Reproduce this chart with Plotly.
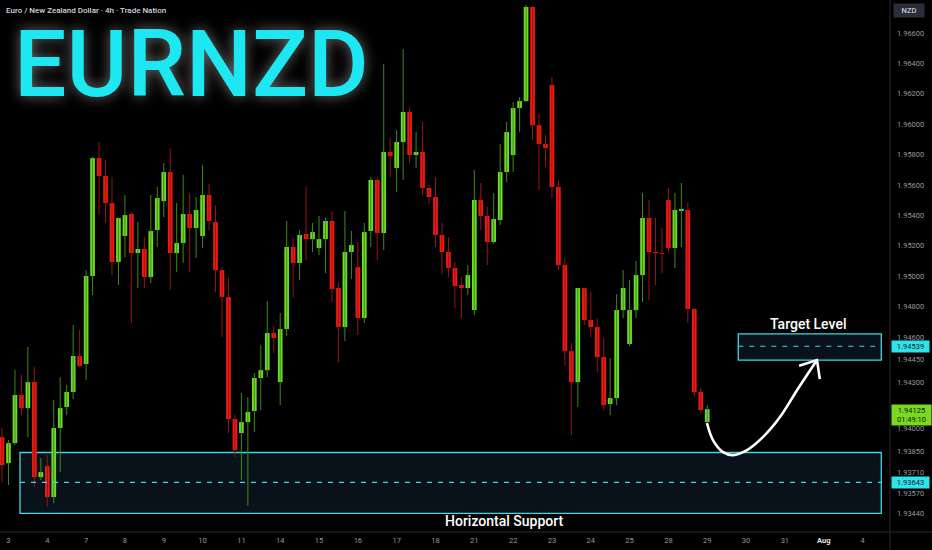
import plotly.graph_objects as go

# ---------------- data (EUR/NZD, 4h candles) ----------------
OPEN = [1.93941, 1.93770, 1.93902, 1.94218, 1.94132, 1.94303, 1.93678, 1.93751, 1.93547, 1.94001,
        1.94139, 1.94238, 1.94475, 1.94422, 1.95001, 1.95777, 1.95659, 1.95481, 1.95093, 1.95264,
        1.95409, 1.95152, 1.95179, 1.94994, 1.95304, 1.95494, 1.95685, 1.95152, 1.95218, 1.95409,
        1.95317, 1.95264, 1.95534, 1.95356, 1.95040, 1.94863, 1.94060, 1.93968, 1.94040, 1.94113,
        1.94330, 1.94382, 1.94626, 1.94303, 1.94652, 1.95192, 1.95087, 1.95277, 1.95244, 1.95185,
        1.95244, 1.95363, 1.94922, 1.94665, 1.95159, 1.95060, 1.94725, 1.95297, 1.95633, 1.95284,
        1.95817, 1.95712, 1.95883, 1.96080, 1.95797, 1.95817, 1.95580, 1.95521, 1.95271, 1.95159,
        1.95054, 1.94942, 1.94922, 1.94777, 1.95501, 1.95396, 1.95225, 1.95369, 1.95685, 1.95797,
        1.96106, 1.96152, 1.96771, 1.95994, 1.95869, 1.96258, 1.95587, 1.95073, 1.94507, 1.94303,
        1.94922, 1.94711, 1.94665, 1.94468, 1.94159, 1.94198, 1.94777, 1.94554, 1.94777, 1.95007,
        1.95383, 1.95159, 1.95152, 1.95501, 1.95185, 1.95429, 1.95435, 1.94784, 1.94238, 1.94040]
HIGH = [1.94001, 1.93922, 1.94382, 1.94350, 1.94534, 1.94402, 1.93803, 1.93823, 1.94185, 1.94336,
        1.94284, 1.94679, 1.94646, 1.95040, 1.95785, 1.95883, 1.95764, 1.95652, 1.95383, 1.95534,
        1.95422, 1.95356, 1.95258, 1.95534, 1.95587, 1.95744, 1.95843, 1.95481, 1.95666, 1.95547,
        1.95521, 1.95731, 1.95606, 1.95468, 1.95060, 1.94988, 1.94086, 1.94231, 1.94205, 1.94363,
        1.94547, 1.94836, 1.94672, 1.94758, 1.95363, 1.95251, 1.95304, 1.95587, 1.95350, 1.95396,
        1.95383, 1.95422, 1.94961, 1.95429, 1.95297, 1.95225, 1.95350, 1.95652, 1.95652, 1.96396,
        1.95909, 1.95962, 1.96495, 1.96113, 1.95948, 1.96014, 1.95600, 1.95652, 1.95350, 1.95258,
        1.95093, 1.94994, 1.95073, 1.95698, 1.95613, 1.95455, 1.95547, 1.95869, 1.96014, 1.96146,
        1.96179, 1.96784, 1.96778, 1.96073, 1.95929, 1.96310, 1.95633, 1.95119, 1.94560, 1.94922,
        1.94925, 1.94896, 1.94725, 1.94593, 1.94461, 1.94882, 1.95040, 1.94975, 1.95100, 1.95547,
        1.95501, 1.95383, 1.95317, 1.95580, 1.95547, 1.95613, 1.95488, 1.94790, 1.94264, 1.94152]
LOW = [1.93645, 1.93626, 1.93889, 1.94086, 1.93941, 1.93613, 1.93659, 1.93481, 1.93507, 1.93711,
       1.94086, 1.94192, 1.94402, 1.94317, 1.94876, 1.95402, 1.95350, 1.95007, 1.94942, 1.95126,
       1.94692, 1.94922, 1.94922, 1.94955, 1.95192, 1.95389, 1.94909, 1.95027, 1.95087, 1.95027,
       1.95119, 1.95185, 1.95304, 1.94896, 1.94600, 1.93968, 1.93810, 1.93659, 1.93488, 1.93974,
       1.94119, 1.94336, 1.94494, 1.94152, 1.94606, 1.94863, 1.94975, 1.95106, 1.95159, 1.95139,
       1.95021, 1.94830, 1.94435, 1.94573, 1.94981, 1.94613, 1.94692, 1.95192, 1.95106, 1.95172,
       1.95652, 1.95554, 1.95633, 1.95744, 1.95712, 1.95534, 1.95475, 1.95192, 1.95014, 1.94994,
       1.94790, 1.94725, 1.94876, 1.94744, 1.95304, 1.95073, 1.95211, 1.95337, 1.95619, 1.95685,
       1.95948, 1.96146, 1.95896, 1.95567, 1.95718, 1.95514, 1.95040, 1.94415, 1.93955, 1.94139,
       1.94679, 1.94600, 1.94369, 1.94119, 1.94086, 1.94152, 1.94725, 1.94540, 1.94725, 1.94830,
       1.94843, 1.94942, 1.95021, 1.95159, 1.95054, 1.95192, 1.94692, 1.94205, 1.94099, 1.94034]
CLOSE = [1.93757, 1.93902, 1.94218, 1.94132, 1.94303, 1.93678, 1.93711, 1.93547, 1.94001, 1.94132,
         1.94238, 1.94475, 1.94409, 1.95001, 1.95777, 1.95659, 1.95481, 1.95093, 1.95383, 1.95402,
         1.95152, 1.95179, 1.94994, 1.95297, 1.95514, 1.95685, 1.95152, 1.95218, 1.95409, 1.95317,
         1.95435, 1.95534, 1.95363, 1.95040, 1.94863, 1.94060, 1.93856, 1.94040, 1.94106, 1.94330,
         1.94382, 1.94626, 1.94593, 1.94652, 1.95192, 1.95087, 1.95271, 1.95244, 1.95290, 1.95244,
         1.95363, 1.94915, 1.94665, 1.95159, 1.95205, 1.94725, 1.95290, 1.95633, 1.95284, 1.95817,
         1.95791, 1.95883, 1.96080, 1.95797, 1.95817, 1.95580, 1.95521, 1.95271, 1.95159, 1.95054,
         1.94935, 1.94922, 1.95007, 1.95501, 1.95396, 1.95225, 1.95376, 1.95685, 1.95948, 1.96106,
         1.96152, 1.96771, 1.95994, 1.95869, 1.95843, 1.95587, 1.95073, 1.94507, 1.94303, 1.94922,
         1.94711, 1.94665, 1.94468, 1.94152, 1.94198, 1.94777, 1.94922, 1.94777, 1.95007, 1.95383,
         1.95159, 1.95152, 1.95146, 1.95185, 1.95435, 1.95442, 1.94784, 1.94238, 1.94119, 1.94125]

DAY_LABELS = ["3", "4", "7", "8", "9", "10", "11", "14", "15", "16", "17", "18",
              "21", "22", "23", "24", "25", "28", "29", "30", "31", "Aug", "4"]
CANDLES_PER_DAY = 6
Y_TICKS = [1.966, 1.964, 1.962, 1.960, 1.958, 1.956, 1.954, 1.952, 1.950, 1.948,
           1.946, 1.9445, 1.943, 1.940, 1.9385, 1.9371, 1.9357, 1.9344]

SUPPORT_ZONE = (1.9344, 1.9384)
SUPPORT_LEVEL = 1.93643
TARGET_ZONE = (1.94448, 1.94620)
TARGET_LEVEL = 1.94539
LAST_PRICE = 1.94125
COUNTDOWN = "01:49:10"

# projected path (candle index, price)
PATH_X = [108.96, 109.89, 111.44, 112.98, 115.15, 117.6, 120.25, 122.9, 125.97]
PATH_Y = [1.94034, 1.93922, 1.93843, 1.93823, 1.93856, 1.93941, 1.94073, 1.94251, 1.94448]
HEAD_X = [123.2, 125.97, 126.4]
HEAD_Y = [1.94411, 1.94448, 1.94323]

GREEN = "#6cdc26"
RED = "#f01a12"
GREEN_WICK = "#3f8a1c"
RED_WICK = "#9a1510"
CYAN = "#3dd9e0"
GRAY = "#9598a1"

n = len(OPEN)
idx = list(range(n))
up = [CLOSE[i] >= OPEN[i] for i in idx]

fig = go.Figure()

# wicks
for flag, col in ((True, GREEN_WICK), (False, RED_WICK)):
    wx, wy = [], []
    for i in idx:
        if up[i] == flag:
            wx += [i, i, None]
            wy += [LOW[i], HIGH[i], None]
    fig.add_trace(go.Scatter(x=wx, y=wy, mode="lines", line=dict(color=col, width=1),
                             hoverinfo="skip"))

# bodies
base = [min(OPEN[i], CLOSE[i]) for i in idx]
height = [max(abs(CLOSE[i] - OPEN[i]), 0.000025) for i in idx]
fig.add_trace(go.Bar(x=idx, y=height, base=base, width=0.72,
                     marker=dict(color=[GREEN if u else RED for u in up], line=dict(width=0)),
                     hoverinfo="skip"))

# zones
x_end = 135.9
fig.add_shape(type="rect", x0=2.78, x1=x_end, y0=SUPPORT_ZONE[0], y1=SUPPORT_ZONE[1],
              fillcolor="rgba(20,40,60,0.45)", line=dict(color=CYAN, width=1.3), layer="below")
fig.add_shape(type="line", x0=2.78, x1=x_end, y0=SUPPORT_LEVEL, y1=SUPPORT_LEVEL,
              line=dict(color=CYAN, width=1.2, dash="5px,6px"))
fig.add_shape(type="rect", x0=113.8, x1=x_end, y0=TARGET_ZONE[0], y1=TARGET_ZONE[1],
              fillcolor="rgba(20,40,60,0.45)", line=dict(color=CYAN, width=1.3), layer="below")
fig.add_shape(type="line", x0=113.8, x1=x_end, y0=TARGET_LEVEL, y1=TARGET_LEVEL,
              line=dict(color=CYAN, width=1.2, dash="5px,6px"))

# projected path
fig.add_trace(go.Scatter(x=PATH_X, y=PATH_Y, mode="lines",
                         line=dict(color="white", width=2.6, shape="spline", smoothing=1.0),
                         hoverinfo="skip"))
fig.add_trace(go.Scatter(x=HEAD_X, y=HEAD_Y, mode="lines",
                         line=dict(color="white", width=2.6), hoverinfo="skip"))

# separators
fig.add_shape(type="line", xref="paper", yref="paper", x0=1, x1=1, y0=-18 / 532, y1=1,
              line=dict(color="#2a2a2a", width=1))
fig.add_shape(type="line", xref="paper", yref="paper", x0=0, x1=932 / 890, y0=0, y1=0,
              line=dict(color="#2a2a2a", width=1))

ann = []
ann.append(dict(xref="paper", yref="paper", x=0.004, y=1 - 10 / 532, xanchor="left", yanchor="middle",
                text="Euro / New Zealand Dollar · 4h · Trade Nation", showarrow=False,
                font=dict(family="Roboto", size=8, color="#d1d4dc", weight=500)))
ann.append(dict(xref="paper", yref="paper", x=12 / 890, y=1 - 64 / 532, xanchor="left", yanchor="middle",
                text="EURNZD", showarrow=False,
                font=dict(family="Roboto", size=93, color="#1de8f2", weight=500,
                          shadow="0px 0px 14px rgba(200,200,200,0.55)")))
ann.append(dict(x=124.6, y=1.94685, text="Target Level", showarrow=False,
                font=dict(family="Roboto", size=14, color="white", weight=500)))
ann.append(dict(x=77.7, y=1.9339, text="Horizontal Support", showarrow=False,
                font=dict(family="Roboto", size=14, color="white", weight=500)))
# axis labels
ann.append(dict(xref="paper", yref="paper", x=1, xshift=3, y=1 - 11 / 532, xanchor="left",
                yanchor="middle", text="NZD", showarrow=False, bgcolor="#2a2e39",
                width=28, height=11, font=dict(family="Roboto", size=7.5, color="#e0e3eb")))
ann.append(dict(xref="paper", x=1, xshift=1, y=TARGET_LEVEL, xanchor="left", yanchor="middle",
                text=f"{TARGET_LEVEL:.5f}", showarrow=False, bgcolor="#2fe3ec", width=35, height=9,
                font=dict(family="Roboto", size=7.5, color="#0b1a22")))
ann.append(dict(xref="paper", x=1, xshift=1, y=SUPPORT_LEVEL, xanchor="left", yanchor="middle",
                text=f"{SUPPORT_LEVEL:.5f}", showarrow=False, bgcolor="#2fe3ec", width=35, height=9,
                font=dict(family="Roboto", size=7.5, color="#0b1a22")))
ann.append(dict(xref="paper", x=1, xshift=1, y=LAST_PRICE, xanchor="left", yanchor="top", yshift=5,
                text=f"{LAST_PRICE:.5f}<br>{COUNTDOWN}", showarrow=False, bgcolor="#7bd820",
                width=37, height=18, font=dict(family="Roboto", size=7.5, color="#0b1a0b")))

tick_vals = [1 + CANDLES_PER_DAY * k for k in range(len(DAY_LABELS))]
tick_text = [f'<span style="color:#e0e3eb"><b>{t}</b></span>' if t == "Aug" else t for t in DAY_LABELS]

fig.update_layout(
    width=932, height=550,
    margin=dict(l=0, r=42, t=0, b=18),
    paper_bgcolor="black", plot_bgcolor="black",
    showlegend=False, hovermode=False, barmode="overlay",
    annotations=ann,
    xaxis=dict(range=[-0.31, 137.25], tickvals=tick_vals, ticktext=tick_text,
               showgrid=False, zeroline=False, ticks="", showline=False, fixedrange=True,
               tickfont=dict(family="Roboto", size=7.5, color=GRAY), ticklabelstandoff=2),
    yaxis=dict(range=[1.93317, 1.96817], side="right", tickvals=Y_TICKS,
               ticktext=[f"{v:.5f}" for v in Y_TICKS], showgrid=False, zeroline=False,
               ticks="", showline=False, ticklabelstandoff=6, fixedrange=True,
               tickfont=dict(family="Roboto", size=7.5, color=GRAY)),
)

fig.write_html("out.html", config={"displayModeBar": False, "staticPlot": True},
               post_script="document.body.style.margin='0';document.body.style.background='black';")
